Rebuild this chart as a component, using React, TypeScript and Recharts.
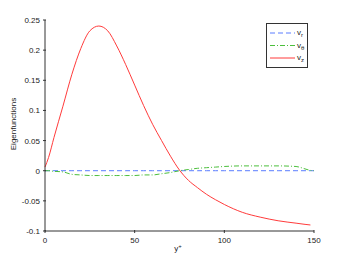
import React from "react"
import { LineChart, Line, XAxis, YAxis, Legend } from "recharts"

// y+ positions
const xs = [0, 2, 5, 10, 15, 20, 25, 30, 35, 40, 45, 50, 55, 60, 65, 70, 75, 80, 85, 90, 95, 100, 110, 120, 130, 140, 145, 148, 150]
// v_z (red)
const vz = [0.006, 0.022, 0.055, 0.107, 0.16, 0.203, 0.232, 0.24, 0.232, 0.207, 0.176, 0.142, 0.108, 0.077, 0.05, 0.024, 0.001, -0.016, -0.028, -0.039, -0.048, -0.056, -0.069, -0.077, -0.083, -0.087, -0.089, -0.09, null]
// v_theta (green)
const vt = [0, 0, -0.001, -0.002, -0.006, -0.007, -0.008, -0.008, -0.008, -0.008, -0.008, -0.008, -0.007, -0.007, -0.005, -0.003, 0, 0.002, 0.004, 0.005, 0.006, 0.007, 0.008, 0.008, 0.008, 0.007, 0.003, 0.0005, 0]
// v_r (blue)
const vr = xs.map(() => 0)

const xTicks = [0, 50, 100, 150]
const yTicks = [-0.1, -0.05, 0, 0.05, 0.1, 0.15, 0.2, 0.25]

const data = xs.map((x, i) => ({ x, vr: vr[i], vt: vt[i], vz: vz[i] }))

const BLUE = "#5a7dff"
const GREEN = "#4cbf3c"
const RED = "#ff3b3b"
const AX = "#333"
const FONT = "'Liberation Sans', Arial, Helvetica, sans-serif"

const fmt = (v: number) => (v === 0 ? "0" : String(v))

const BottomTick = (p: any) => (
  <g>
    <line x1={p.x} x2={p.x} y1={p.y} y2={p.y - 3} stroke={AX} />
    <text x={p.x} y={p.y + 10} textAnchor="middle" fontSize={8} fill="#222" style={{ fontFamily: FONT }}>
      {fmt(p.payload.value)}
    </text>
  </g>
)
const TopTick = (p: any) => <line x1={p.x} x2={p.x} y1={p.y} y2={p.y + 3} stroke={AX} />
const LeftTick = (p: any) => (
  <g>
    <line x1={p.x} x2={p.x + 3} y1={p.y} y2={p.y} stroke={AX} />
    <text x={p.x - 3} y={p.y + 3} textAnchor="end" fontSize={8} fill="#222" style={{ fontFamily: FONT }}>
      {fmt(p.payload.value)}
    </text>
  </g>
)
const RightTick = (p: any) => <line x1={p.x} x2={p.x - 3} y1={p.y} y2={p.y} stroke={AX} />

const legendItems = [
  { name: "r", color: BLUE, dash: "5 3" },
  { name: "θ", color: GREEN, dash: "5 2 1 2" },
  { name: "z", color: RED, dash: undefined },
]

const LegendBox = () => (
  <div style={{ border: "1px solid #333", background: "#fff", width: 42, height: 45, boxSizing: "border-box" }}>
    <svg width={40} height={43} style={{ display: "block" }}>
      {legendItems.map((it, i) => {
        const y = 9 + i * 12.5
        return (
          <g key={it.name}>
            <line x1={3} x2={28} y1={y} y2={y} stroke={it.color} strokeDasharray={it.dash} />
            <text x={30} y={y + 2} fontSize={8} fill="#222" style={{ fontFamily: FONT }}>
              v<tspan dy={2} fontSize={6}>{it.name}</tspan>
            </text>
          </g>
        )
      })}
    </svg>
  </div>
)

export default function App() {
  return (
    <div style={{ position: "absolute", left: 0, top: 0, width: 346, height: 260, background: "#fff" }}>
      <LineChart width={346} height={260} data={data} margin={{ top: 20, right: 32, bottom: 9, left: 0 }}>
        <XAxis
          dataKey="x"
          type="number"
          domain={[0, 150]}
          ticks={xTicks}
          tickSize={0}
          tickLine={false}
          height={20}
          stroke={AX}
          tick={BottomTick}
          label={{
            content: () => (
              <text x={178} y={251} textAnchor="middle" fontSize={8} fill="#222" style={{ fontFamily: FONT }}>
                y<tspan dy={-3} fontSize={6}>+</tspan>
              </text>
            ),
          }}
        />
        <XAxis
          xAxisId="top"
          dataKey="x"
          type="number"
          orientation="top"
          domain={[0, 150]}
          ticks={xTicks}
          tickSize={0}
          tickLine={false}
          height={0}
          stroke={AX}
          tick={TopTick}
        />
        <YAxis
          type="number"
          domain={[-0.1, 0.25]}
          ticks={yTicks}
          tickSize={0}
          tickLine={false}
          width={45}
          stroke={AX}
          tick={LeftTick}
          allowDataOverflow
          label={{
            content: () => (
              <text x={16} y={124} transform="rotate(-90 16 124)" textAnchor="middle" fontSize={8} fill="#222" style={{ fontFamily: FONT }}>
                Eigenfunctions
              </text>
            ),
          }}
        />
        <YAxis
          yAxisId="right"
          type="number"
          orientation="right"
          domain={[-0.1, 0.25]}
          ticks={yTicks}
          tickSize={0}
          tickLine={false}
          width={0}
          stroke={AX}
          tick={RightTick}
          allowDataOverflow
        />
        <Line dataKey="vr" type="monotone" stroke={BLUE} strokeWidth={1} strokeDasharray="5 3" dot={false} isAnimationActive={false} />
        <Line dataKey="vt" type="monotone" stroke={GREEN} strokeWidth={1} strokeDasharray="5 2 1 2" dot={false} isAnimationActive={false} />
        <Line dataKey="vz" type="monotone" stroke={RED} strokeWidth={1} dot={false} connectNulls={false} isAnimationActive={false} />
        <Legend
          layout="vertical"
          align="center"
          verticalAlign="middle"
          content={() => <LegendBox />}
          wrapperStyle={{ position: "absolute", left: 266, top: 23, width: 42, height: 45 }}
        />
      </LineChart>
    </div>
  )
}
